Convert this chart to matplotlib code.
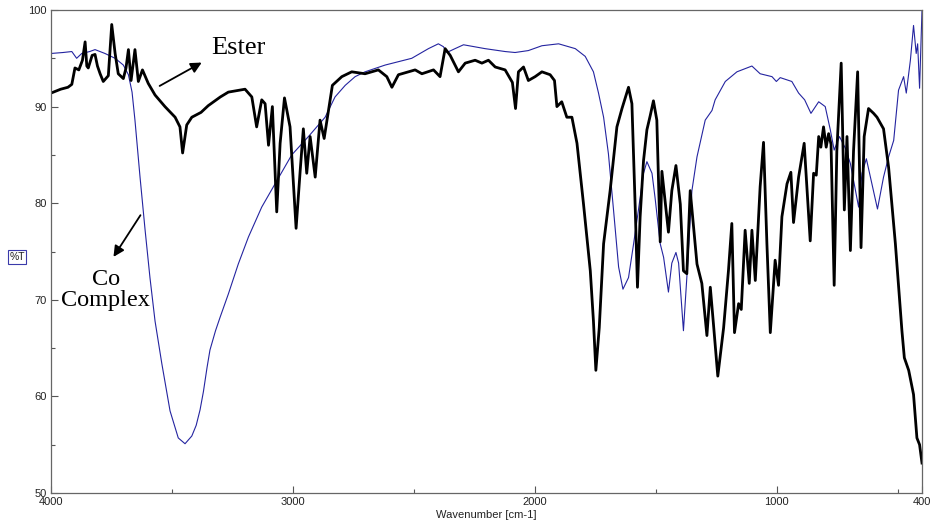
import matplotlib.pyplot as plt
from matplotlib.ticker import FixedLocator

# Ester (black, thick) - wavenumber / %T
ester_wn = [4000, 3960, 3930, 3914, 3901, 3885, 3870, 3859, 3852, 3846, 3830, 3818, 3808, 3797,
            3784, 3763, 3749, 3742, 3735, 3722, 3701, 3690, 3680, 3669, 3653, 3639, 3622, 3598,
            3570, 3529, 3487, 3467, 3456, 3439, 3418, 3380, 3350, 3300, 3267, 3198, 3170, 3150,
            3129, 3115, 3101, 3085, 3067, 3053, 3035, 3012, 2987, 2970, 2957, 2943, 2929, 2908,
            2888, 2871, 2853, 2837, 2798, 2757, 2702, 2647, 2612, 2591, 2564, 2495, 2467, 2419,
            2392, 2371, 2350, 2316, 2288, 2247, 2219, 2192, 2164, 2123, 2093, 2080, 2068, 2047,
            2027, 1999, 1971, 1937, 1919, 1909, 1889, 1868, 1847, 1826, 1799, 1771, 1758, 1748,
            1734, 1716, 1689, 1661, 1640, 1613, 1599, 1585, 1576, 1565, 1551, 1537, 1523, 1510,
            1496, 1482, 1475, 1448, 1434, 1417, 1399, 1386, 1372, 1358, 1330, 1310, 1289, 1275,
            1262, 1244, 1220, 1200, 1186, 1175, 1158, 1147, 1131, 1114, 1103, 1089, 1069, 1055,
            1041, 1027, 1007, 993, 979, 958, 942, 931, 910, 887, 862, 848, 837, 827, 818, 807,
            796, 786, 776, 763, 752, 734, 721, 710, 696, 683, 666, 652, 639, 621, 600, 586, 559,
            538, 510, 483, 473, 455, 435, 421, 410, 400]
ester_t = [91.4, 91.8, 92.0, 92.3, 94.0, 93.8, 94.8, 96.7, 94.2, 94.0, 95.3, 95.4, 94.2, 93.4,
           92.6, 93.2, 98.5, 97.0, 95.5, 93.4, 92.9, 94.0, 95.9, 92.7, 95.9, 92.6, 93.8, 92.4,
           91.2, 90.0, 88.9, 87.9, 85.2, 88.1, 88.9, 89.4, 90.1, 91.0, 91.5, 91.8, 91.0, 87.9,
           90.7, 90.3, 86.0, 90.0, 79.1, 86.2, 90.9, 87.9, 77.4, 83.4, 87.7, 83.1, 86.9, 82.7,
           88.6, 86.7, 89.6, 92.2, 93.1, 93.6, 93.4, 93.8, 93.1, 92.0, 93.3, 93.8, 93.4, 93.8,
           93.1, 96.0, 95.3, 93.6, 94.5, 94.8, 94.5, 94.8, 94.1, 93.8, 92.5, 89.8, 93.6, 94.1,
           92.7, 93.1, 93.6, 93.3, 92.7, 90.0, 90.5, 88.9, 88.9, 86.2, 79.9, 73.0, 67.8, 62.7,
           67.1, 75.8, 81.3, 87.9, 89.8, 92.0, 90.3, 79.3, 71.3, 78.6, 84.4, 87.6, 89.1, 90.6,
           88.6, 76.0, 83.3, 77.0, 81.3, 83.9, 79.9, 73.0, 72.7, 81.3, 73.7, 71.7, 66.3, 71.3,
           67.5, 62.1, 67.1, 73.0, 77.9, 66.6, 69.6, 69.0, 77.2, 71.7, 77.2, 72.0, 81.7, 86.3,
           75.8, 66.6, 74.1, 71.5, 78.6, 82.0, 83.2, 78.0, 82.7, 86.2, 76.1, 83.1, 82.9, 86.9,
           85.8, 87.9, 85.8, 87.2, 86.1, 71.5, 85.4, 94.5, 79.3, 86.9, 75.1, 85.4, 93.6, 75.4,
           86.9, 89.8, 89.3, 88.9, 87.7, 83.7, 75.8, 66.8, 64.0, 62.7, 60.2, 55.7, 55.0, 53.1]

# Co complex (blue, thin)
co_wn = [4000, 3950, 3914, 3894, 3873, 3840, 3818, 3777, 3735, 3701, 3680, 3665, 3653, 3632,
         3611, 3591, 3570, 3542, 3508, 3474, 3446, 3418, 3400, 3384, 3370, 3355, 3343, 3320,
         3301, 3267, 3226, 3184, 3129, 3074, 3005, 2936, 2867, 2826, 2784, 2743, 2702, 2619,
         2509, 2440, 2399, 2378, 2364, 2330, 2295, 2206, 2123, 2082, 2027, 1971, 1902, 1833,
         1792, 1758, 1737, 1716, 1696, 1675, 1654, 1636, 1613, 1592, 1572, 1551, 1537, 1516,
         1503, 1482, 1468, 1448, 1434, 1417, 1406, 1386, 1372, 1351, 1330, 1296, 1268, 1255,
         1213, 1165, 1103, 1069, 1020, 1002, 986, 938, 910, 885, 859, 827, 800, 779, 763, 741,
         717, 696, 662, 648, 630, 607, 584, 559, 538, 517, 497, 476, 465, 448, 435, 424, 418,
         410, 400]
co_t = [95.5, 95.6, 95.7, 95.0, 95.5, 95.7, 95.9, 95.5, 95.0, 94.3, 93.3, 91.5, 88.6, 82.7,
        77.2, 72.3, 67.8, 63.4, 58.5, 55.7, 55.1, 55.9, 57.0, 58.6, 60.5, 63.0, 64.8, 66.8,
        68.2, 70.6, 73.7, 76.5, 79.6, 82.0, 85.0, 86.9, 88.9, 91.0, 92.2, 93.1, 93.6, 94.3,
        95.0, 96.0, 96.5, 96.2, 95.6, 96.0, 96.4, 96.0, 95.7, 95.6, 95.8, 96.3, 96.5, 96.0,
        95.2, 93.6, 91.4, 88.9, 85.1, 79.3, 73.4, 71.1, 72.3, 75.8, 79.3, 83.1, 84.3, 83.1,
        80.5, 75.8, 74.4, 70.8, 73.8, 74.9, 73.8, 66.8, 72.3, 81.3, 84.8, 88.6, 89.6, 90.7,
        92.6, 93.6, 94.2, 93.4, 93.1, 92.6, 93.0, 92.6, 91.4, 90.7, 89.3, 90.5, 90.0, 87.6,
        85.5, 86.9, 85.7, 84.1, 79.6, 83.1, 84.6, 82.0, 79.4, 82.7, 84.8, 86.5, 91.7, 93.1,
        91.4, 94.8, 98.4, 95.5, 96.5, 91.9, 100.0]

x_major = [4000, 3000, 2000, 1000, 400]
x_labels = ['4000', '3000', '2000', '1000', '400']
x_minor = [3500, 2500, 1500, 500]
y_major = [50, 60, 70, 80, 90, 100]
y_minor = [55, 65, 75, 85, 95]

fig = plt.figure(figsize=(9.34, 5.32), dpi=100)
ax = fig.add_axes([51 / 934, 1 - 493 / 532, 871 / 934, 483 / 532])

ax.plot(co_wn, co_t, color='#2424a0', lw=0.8)
ax.plot(ester_wn, ester_t, color='black', lw=2.0, solid_joinstyle='round')

ax.set_xlim(4000, 400)
ax.set_ylim(50, 100)

tick_font = ['Liberation Sans', 'DejaVu Sans']
ax.xaxis.set_major_locator(FixedLocator(x_major))
ax.xaxis.set_minor_locator(FixedLocator(x_minor))
ax.set_xticklabels(x_labels, family=tick_font, fontsize=8)
ax.yaxis.set_major_locator(FixedLocator(y_major))
ax.yaxis.set_minor_locator(FixedLocator(y_minor))
ax.set_yticklabels([str(v) for v in y_major], family=tick_font, fontsize=8)
ax.tick_params(which='both', direction='in', color='#555555', width=0.8, pad=3)
ax.tick_params(which='major', length=5)
ax.tick_params(which='minor', length=3)
ax.tick_params(axis='both', labelcolor='#222222')

for sp in ax.spines.values():
    sp.set_color('#666666')
    sp.set_linewidth(0.9)

ax.set_xlabel('Wavenumber [cm-1]', family=tick_font, fontsize=8, labelpad=2, color='#222222')
fig.text(17 / 934, 1 - 257 / 532, '%T', family=tick_font, fontsize=7.5, ha='center', va='center',
         color='#222222',
         bbox=dict(boxstyle='square,pad=0.15', fc='white', ec='#3a3aaa', lw=0.8))

# annotations
serif = ['Liberation Serif', 'DejaVu Serif']
ax.annotate('', xy=(3367, 94.7), xytext=(3561, 92.0),
            arrowprops=dict(arrowstyle='-|>', color='black', lw=1.3, mutation_scale=16))
ax.text(3227, 96.1, 'Ester', family=serif, fontsize=19, ha='center', va='center')
ax.annotate('', xy=(3748, 74.2), xytext=(3624, 79.0),
            arrowprops=dict(arrowstyle='-|>', color='black', lw=1.3, mutation_scale=16))
ax.text(3773, 71.0, 'Co\nComplex', family=serif, fontsize=17.5, ha='center', va='center',
        linespacing=1.0)

fig.savefig('out.png', dpi=100)
